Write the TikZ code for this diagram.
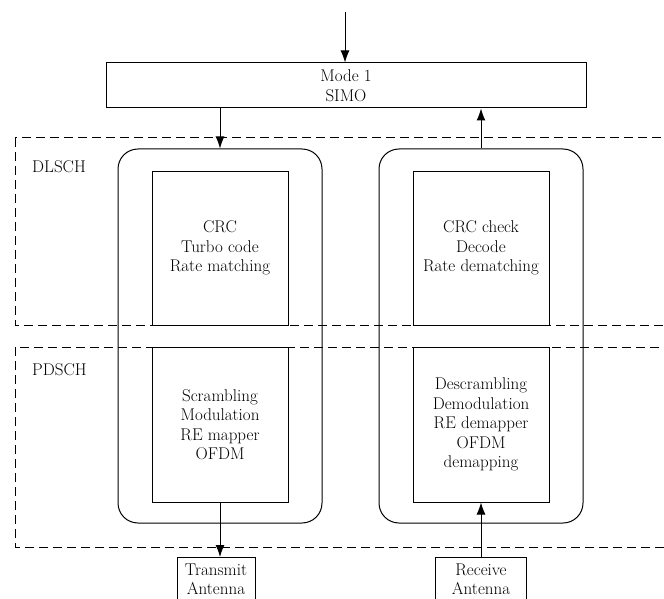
\documentclass[tikz,border=0pt]{standalone}
\usetikzlibrary{arrows.meta}
\begin{document}
\begin{tikzpicture}[x=1pt,y=-1pt,
    font=\fontsize{17}{19.5}\selectfont,
    every node/.style={align=center,inner sep=0pt},
    blk/.style={draw,line width=1pt,minimum width=136pt,minimum height=155pt},
    chain/.style={draw,line width=1pt,rounded corners=20pt,minimum width=204pt,minimum height=374pt},
    layer/.style={draw,line width=1pt,dash pattern=on 9pt off 5pt},
    flow/.style={line width=1pt,-{Latex[length=12pt,width=9pt]}}]
    \useasboundingbox (0,0) rectangle (664,599);
    % channel layers
    \draw[layer] (15,138) rectangle (690,325);
    \draw[layer] (15,347) rectangle (690,547);
    \node[anchor=west] (dl) at (32,167) {DLSCH};
    \node[anchor=west] (pd) at (32,370) {PDSCH};
    \coordinate (src) at (345,12);
    \node[draw,line width=1pt,minimum width=480pt,minimum height=45pt] (M) at (346,85.5) {Mode 1\\SIMO};
    \node[chain] (TX) at (220,336) {};
    \node[chain] (RX) at (481,336) {};
    \node[blk,minimum height=154pt] (Tdl) at (220,248) {CRC\\Turbo code\\Rate matching};
    \node[blk,minimum height=154pt] (Rdl) at (481,248) {CRC check\\Decode\\Rate dematching};
    \node[blk] (Tpd) at (220,424.5) {Scrambling\\Modulation\\RE mapper\\OFDM};
    \node[blk] (Rpd) at (481,424.5) {Descrambling\\Demodulation\\RE demapper\\OFDM\\demapping};
    % antennas run past the lower edge
    \node[draw,line width=1pt,anchor=north,minimum width=78pt,minimum height=44pt] (TA) at (216,557) {Transmit\\Antenna};
    \node[draw,line width=1pt,anchor=north,minimum width=91pt,minimum height=44pt] (RA) at (481,557) {Receive\\Antenna};
    \draw[flow] (src) -- (M.north -| src);
    \draw[flow] (M.south -| TX.north) -- (TX.north);
    \draw[flow] (RX.north) -- (M.south -| RX.north);
    \draw[flow] (Tpd.south) -- (Tpd.south |- TA.north);
    \draw[flow] (RA.north) -- (Rpd.south);
\end{tikzpicture}
\end{document}
